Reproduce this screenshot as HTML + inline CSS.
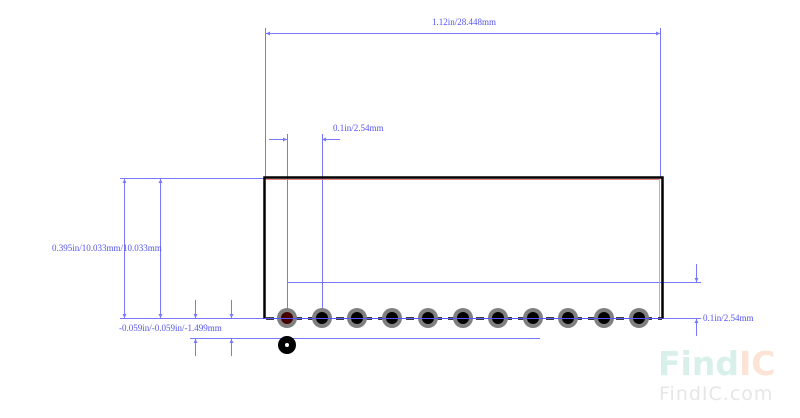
<!DOCTYPE html>
<html><head><meta charset="utf-8"><style>
html,body{margin:0;padding:0;background:#fff;}
svg{display:block;}
text{font-family:"Liberation Serif",serif;font-size:9px;fill:#5555ee;}
</style></head><body>
<svg width="800" height="418" viewBox="0 0 800 418" xmlns="http://www.w3.org/2000/svg">
<g stroke="#7777ff" stroke-width="1" fill="none">
<line x1="265.5" y1="28" x2="265.5" y2="177"/>
<line x1="660.5" y1="28" x2="660.5" y2="177"/>
<line x1="265" y1="33.5" x2="661" y2="33.5"/>
<line x1="287.5" y1="134" x2="287.5" y2="318"/>
<line x1="322.5" y1="134" x2="322.5" y2="318"/>
<line x1="269" y1="139.5" x2="287" y2="139.5"/>
<line x1="322" y1="139.5" x2="340" y2="139.5"/>
<line x1="124.5" y1="178" x2="124.5" y2="318"/>
<line x1="160.5" y1="178" x2="160.5" y2="318"/>
<line x1="120" y1="178.5" x2="264" y2="178.5"/>
<line x1="120" y1="318.5" x2="264" y2="318.5"/>
<line x1="195.5" y1="300" x2="195.5" y2="318"/>
<line x1="231.5" y1="300" x2="231.5" y2="318"/>
<line x1="195.5" y1="338" x2="195.5" y2="356"/>
<line x1="231.5" y1="338" x2="231.5" y2="356"/>
<line x1="190" y1="338.5" x2="540" y2="338.5"/>
<line x1="287" y1="282.5" x2="701" y2="282.5"/>
<line x1="662" y1="318.5" x2="701" y2="318.5"/>
<line x1="696.5" y1="264" x2="696.5" y2="282"/>
<line x1="696.5" y1="318" x2="696.5" y2="336"/>
</g>
<g fill="#7777ff">
<path d="M266 33.5 l4 -2 v4z"/><path d="M660 33.5 l-4 -2 v4z"/>
<path d="M287 139.5 l-4 -2 v4z"/><path d="M322 139.5 l4 -2 v4z"/>
<path d="M124.5 179 l-2 4 h4z"/><path d="M124.5 318 l-2 -4 h4z"/>
<path d="M160.5 179 l-2 4 h4z"/><path d="M160.5 318 l-2 -4 h4z"/>
<path d="M195.5 318 l-2 -4 h4z"/><path d="M231.5 318 l-2 -4 h4z"/>
<path d="M195.5 339 l-2 4 h4z"/><path d="M231.5 339 l-2 4 h4z"/>
<path d="M696.5 282 l-2 -4 h4z"/><path d="M696.5 319 l-2 4 h4z"/>
</g>
<line x1="266" y1="179.5" x2="660" y2="179.5" stroke="#f08080" stroke-width="1"/>
<line x1="659.5" y1="179" x2="659.5" y2="318" stroke="#f0a0a0" stroke-width="1"/>
<path d="M264.5 318.5 V177.5 H662.5 V318.5" stroke="#000" stroke-width="2.5" fill="none"/>
<line x1="264" y1="318.5" x2="662" y2="318.5" stroke="#000" stroke-width="2.5" stroke-dasharray="8 6" stroke-dashoffset="-2"/>
<g fill="#808080">
<circle cx="287" cy="318" r="10"/><circle cx="322" cy="318" r="10"/><circle cx="357" cy="318" r="10"/><circle cx="392" cy="318" r="10"/><circle cx="428" cy="318" r="10"/><circle cx="463" cy="318" r="10"/><circle cx="498" cy="318" r="10"/><circle cx="533" cy="318" r="10"/><circle cx="568" cy="318" r="10"/><circle cx="604" cy="318" r="10"/><circle cx="639" cy="318" r="10"/>
</g>
<g fill="#000">
<circle cx="287" cy="318" r="6" fill="#400"/><circle cx="322" cy="318" r="6"/><circle cx="357" cy="318" r="6"/><circle cx="392" cy="318" r="6"/><circle cx="428" cy="318" r="6"/><circle cx="463" cy="318" r="6"/><circle cx="498" cy="318" r="6"/><circle cx="533" cy="318" r="6"/><circle cx="568" cy="318" r="6"/><circle cx="604" cy="318" r="6"/><circle cx="639" cy="318" r="6"/>
</g>
<line x1="264" y1="318.5" x2="662" y2="318.5" stroke="#5555ff" stroke-width="1"/>
<circle cx="287" cy="345" r="9" fill="#000"/><circle cx="287" cy="345" r="2" fill="#fff"/>
<text x="432" y="25">1.12in/28.448mm</text>
<text x="333" y="131">0.1in/2.54mm</text>
<text x="52" y="251">0.395in/10.033mm/10.033mm</text>
<text x="119" y="331">-0.059in/-0.059in/-1.499mm</text>
<text x="703" y="321">0.1in/2.54mm</text>
<text x="658" y="375" style="font-family:'DejaVu Sans',sans-serif;font-size:33px;font-weight:bold;fill:#d8efea">Find<tspan style="fill:#fbe4d6">IC</tspan></text>
<text x="659" y="400" style="font-family:'DejaVu Sans',sans-serif;font-size:19px;fill:#e6e6e6;letter-spacing:1px">FindIC.com</text>
</svg>
</body></html>
